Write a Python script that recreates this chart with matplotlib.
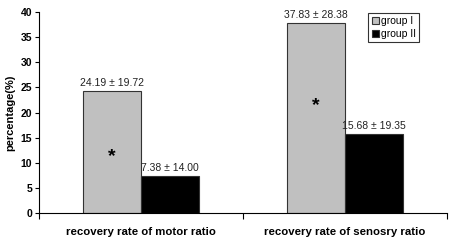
import matplotlib
matplotlib.use("Agg")
import matplotlib.pyplot as plt
import numpy as np

categories = ["recovery rate of motor ratio", "recovery rate of senosry ratio"]
group1 = [24.19, 37.83]
group1_sd = [19.72, 28.38]
group2 = [7.38, 15.68]
group2_sd = [14.00, 19.35]
star_y = [11.2, 21.4]

plt.rcParams["font.family"] = ["Liberation Sans", "DejaVu Sans"]

fig = plt.figure(figsize=(4.51, 2.41), dpi=100)
ax = fig.add_axes([0.0865, 0.116, 0.905, 0.834])

x = np.arange(len(categories))
w = 0.284
b1 = ax.bar(x - w / 2, group1, w, color="#c0c0c0", edgecolor="#333333", linewidth=0.8, label="group I")
b2 = ax.bar(x + w / 2, group2, w, color="black", edgecolor="#333333", linewidth=0.8, label="group II")

for i in range(len(categories)):
    ax.text(x[i] - w / 2, group1[i] + 0.6, f"{group1[i]:.2f} ± {group1_sd[i]:.2f}",
            ha="center", va="bottom", fontsize=7.5, color="#222222")
    ax.text(x[i] + w / 2, group2[i] + 0.6, f"{group2[i]:.2f} ± {group2_sd[i]:.2f}",
            ha="center", va="bottom", fontsize=7.5, color="#222222")
    ax.text(x[i] - w / 2, star_y[i], "*", ha="center", va="center", fontsize=14, fontweight="bold")

ax.set_xlim(-0.5, 1.5)
ax.set_ylim(0, 40)
ax.set_yticks(range(0, 41, 5))
ax.set_xticks([-0.5, 0.5, 1.5])
ax.set_xticklabels([])
ax.set_xticks(x, minor=True)
ax.set_xticklabels(categories, minor=True, fontsize=8.2, fontweight="bold")
ax.tick_params(axis="x", which="minor", length=0, pad=10)
ax.tick_params(axis="x", which="major", length=4, direction="out")
ax.tick_params(axis="y", length=3, direction="out", labelsize=7.5, pad=2)
for lbl in ax.get_yticklabels():
    lbl.set_fontweight("bold")
ax.spines["top"].set_visible(False)
ax.spines["right"].set_visible(False)
ax.set_ylabel("percentage(%)", fontsize=8, fontweight="bold", labelpad=4)

leg = ax.legend(loc="upper right", bbox_to_anchor=(0.931, 0.995), borderaxespad=0, fontsize=7.5,
                frameon=True, fancybox=False, edgecolor="black", handlelength=0.7, handleheight=0.7,
                handletextpad=0.2, borderpad=0.3, labelspacing=0.3)
leg.get_frame().set_linewidth(0.8)

fig.savefig("out.png", dpi=100)
